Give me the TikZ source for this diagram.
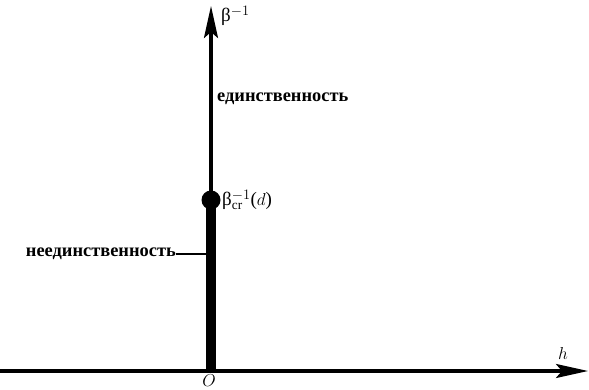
\documentclass[tikz,border=0pt]{standalone}
\usepackage{fontspec}
\setmainfont{Liberation Serif}
\usetikzlibrary{arrows.meta}
\tikzset{
  axis/.style={line width=3.2pt,-{Stealth[length=32pt,width=14pt,inset=6pt]}},
  lbl/.style={inner sep=0pt,font=\fontsize{18.4}{22}\selectfont\bfseries},
  mlbl/.style={inner sep=0pt,font=\fontsize{19}{22}\selectfont}
}
\begin{document}
\begin{tikzpicture}[x=1pt,y=-1pt]
\useasboundingbox (0,0) rectangle (589,390);
\coordinate (O) at (211,371);
\coordinate (L) at (0,371);
\coordinate (H) at (588,371);
\coordinate (V) at (211,6);
\coordinate (C) at (211,200);
\draw[axis] (L) -- (H);
\draw[axis] (O) -- (V);
\draw[line width=10pt] (O) -- (C);
\node[circle,fill=black,minimum size=19pt,inner sep=0pt] (dot) at (C) {};
\node[mlbl,anchor=west] (beta) at (221,16) {β$^{-1}$};
\node[lbl,anchor=west] (uniq) at (217,99) {единственность};
\node[mlbl,anchor=west] (bcr) at (222,200) {β$^{-1}_{\mathrm{cr}}$($d$)};
\node[lbl,anchor=east] (nonuniq) at (176,254) {неединственность};
\coordinate (T) at (206,254);
\draw[line width=2.6pt] (nonuniq.east) -- (T);
\node[mlbl] (h) at (563,353) {$h$};
\node[mlbl] (o) at (209,381) {$O$};
\end{tikzpicture}
\end{document}
